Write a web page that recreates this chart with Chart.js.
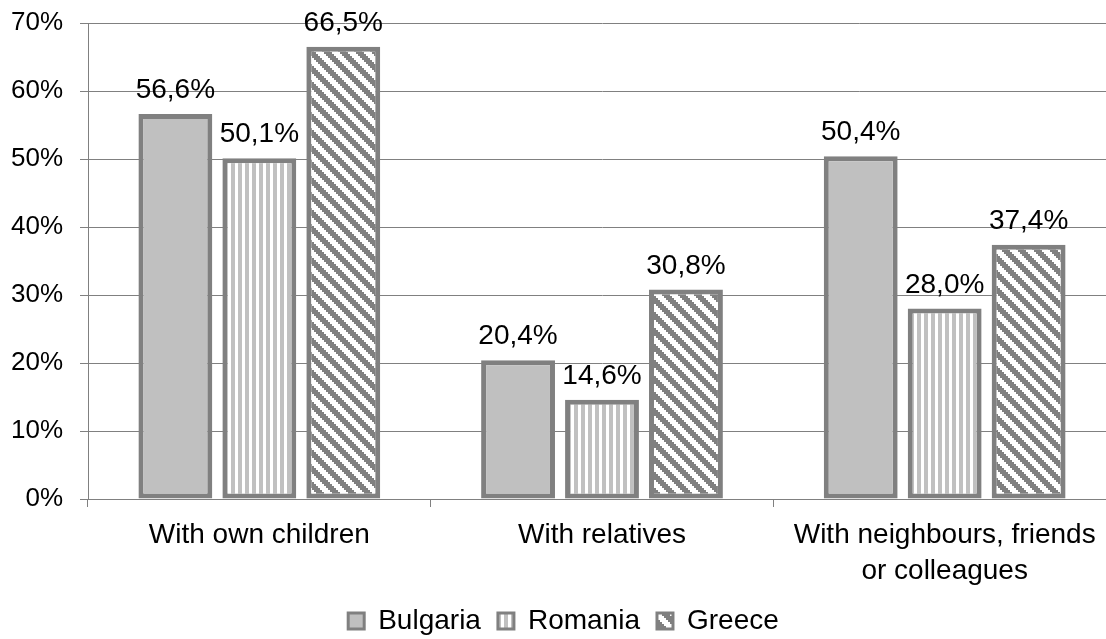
<!DOCTYPE html>
<html>
<head>
<meta charset="utf-8">
<script src="https://cdn.jsdelivr.net/npm/chart.js@4/dist/chart.umd.min.js"></script>
<style>
html,body{margin:0;padding:0;background:#fff;overflow:hidden;}
#wrap{width:1126px;height:639px;}
</style>
</head>
<body>
<div id="wrap"><canvas id="c" width="1126" height="639"></canvas></div>
<script>
const categories = ['With own children', 'With relatives', ['With neighbours, friends', 'or colleagues']];
const seriesNames = ['Bulgaria', 'Romania', 'Greece'];
const bulgaria = [56.6, 20.4, 50.4];
const romania = [50.1, 14.6, 28.0];
const greece = [66.5, 30.8, 37.4];
const yTicks = [0, 10, 20, 30, 40, 50, 60, 70];

const FONT = '"Liberation Sans", Arial, sans-serif';
const GRAY = '#808080';
const LIGHT = '#c0c0c0';

function makeTile(w, h, draw) {
  const c = document.createElement('canvas');
  c.width = w; c.height = h;
  const x = c.getContext('2d');
  draw(x);
  return document.getElementById('c').getContext('2d').createPattern(c, 'repeat');
}
const vertPattern = makeTile(7, 7, (x) => {
  x.fillStyle = '#fff'; x.fillRect(0, 0, 7, 7);
  x.fillStyle = LIGHT; x.fillRect(0, 0, 4, 7);
});
const diagPattern = makeTile(16, 16, (x) => {
  x.fillStyle = '#fff'; x.fillRect(0, 0, 16, 16);
  x.fillStyle = GRAY;
  for (let by = 0; by < 8; by++) {
    for (let bx = 0; bx < 8; bx++) {
      if ((((bx - by) % 8) + 8) % 8 < 4) x.fillRect(bx * 2, by * 2, 2, 2);
    }
  }
});

const labelPlugin = {
  id: 'valueLabels',
  afterDatasetsDraw(chart) {
    const ctx = chart.ctx;
    ctx.save();
    ctx.font = '28px ' + FONT;
    ctx.fillStyle = '#000';
    ctx.textAlign = 'center';
    ctx.textBaseline = 'alphabetic';
    chart.data.datasets.forEach((ds, i) => {
      const meta = chart.getDatasetMeta(i);
      meta.data.forEach((el, j) => {
        const v = ds.data[j];
        ctx.fillText(v.toFixed(1).replace('.', ',') + '%', el.x, el.y - 16);
      });
    });
    ctx.restore();
  }
};

new Chart(document.getElementById('c'), {
  type: 'bar',
  data: {
    labels: categories,
    datasets: [
      { label: seriesNames[0], data: bulgaria, backgroundColor: LIGHT },
      { label: seriesNames[1], data: romania, backgroundColor: vertPattern },
      { label: seriesNames[2], data: greece, backgroundColor: diagPattern }
    ].map(d => Object.assign(d, {
      borderColor: GRAY, borderWidth: 5, borderSkipped: false,
      categoryPercentage: 0.735, barPercentage: 0.88
    }))
  },
  options: {
    responsive: false,
    animation: false,
    devicePixelRatio: 1,
    layout: { padding: { left: 11, right: 10, top: 23, bottom: -6 } },
    plugins: {
      tooltip: { enabled: false },
      legend: {
        position: 'bottom',
        labels: {
          font: { size: 28, family: FONT },
          color: '#000',
          boxWidth: 16,
          boxHeight: 16,
          padding: 17,
          generateLabels(chart) {
            const items = Chart.defaults.plugins.legend.labels.generateLabels(chart);
            items.forEach(it => { it.lineWidth = 3; it.strokeStyle = GRAY; });
            return items;
          }
        }
      }
    },
    scales: {
      x: {
        grid: { drawOnChartArea: false, drawTicks: true, tickLength: 8, color: GRAY, lineWidth: 1 },
        border: { color: GRAY, width: 1 },
        ticks: { font: { size: 28, family: FONT, lineHeight: 1.29 }, color: '#000', maxRotation: 0, autoSkip: false, padding: 10 },
        afterFit(scale) { scale.height = 91; }
      },
      y: {
        min: 0, max: 70,
        afterBuildTicks(scale) { scale.ticks = yTicks.map(v => ({ value: v })); },
        grid: { color: GRAY, lineWidth: 1, drawTicks: true, tickLength: 8 },
        border: { color: GRAY, width: 1 },
        ticks: { font: { size: 26, family: FONT }, color: '#000', padding: 17, callback: (v) => v + '%' },
        afterFit(scale) { scale.width = 77; scale.paddingTop = 0; scale.paddingBottom = 0; }
      }
    }
  },
  plugins: [labelPlugin]
});
</script>
</body>
</html>
